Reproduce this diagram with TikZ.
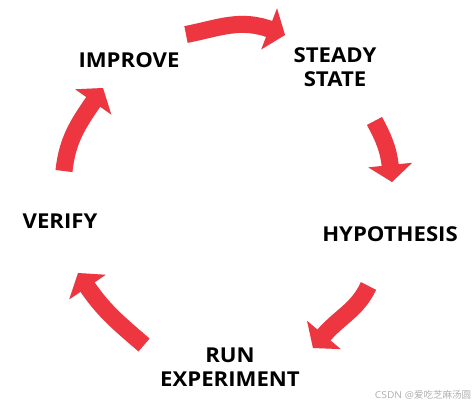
\documentclass[tikz,border=0pt]{standalone}
\usepackage{fontspec}
\setmainfont{Open Sans}[FakeStretch=1.08]
\newfontfamily\cjkfont{Noto Sans CJK SC}
\usetikzlibrary{calc}
\definecolor{arrowred}{RGB}{238,54,64}
\definecolor{markgray}{RGB}{175,175,175}
\tikzset{
  label/.style={font=\fontsize{20.5}{24}\selectfont\bfseries, inner sep=0pt, text=black, align=center},
  shaft/.style={draw=arrowred, line width=17pt},
  shadowshaft/.style={draw=black, draw opacity=0.15, line width=17pt},
}
% #1 tail, #2 out angle, #3 tip, #4 tip direction, #5 in angle
\newcommand{\cyclearrow}[5]{%
  \begin{scope}[shift={(1.2,-1.8)}]
    \draw[shadowshaft] (#1) to[out=#2,in=#5] ($(#3)+({#4+180}:14)$);
    \fill[black,opacity=0.15] ($(#3)+({#4+180}:17)+({#4+90}:22)$) -- (#3) -- ($(#3)+({#4+180}:17)+({#4-90}:22)$) -- cycle;
  \end{scope}
  \draw[shaft] (#1) to[out=#2,in=#5] ($(#3)+({#4+180}:14)$);
  \fill[arrowred] ($(#3)+({#4+180}:17)+({#4+90}:22)$) -- (#3) -- ($(#3)+({#4+180}:17)+({#4-90}:22)$) -- cycle;
}
\begin{document}
\begin{tikzpicture}[x=1pt,y=1pt]
\useasboundingbox (0,0) rectangle (474,407);
\fill[white] (0,0) rectangle (474,407);

% labels
\node[label] (improve) at (129,347) {IMPROVE};
\node[label] (steady) at (335,339.5) {STEADY\\STATE};
\node[label] (hyp) at (390,172.5) {HYPOTHESIS};
\node[label] (run) at (230,40) {RUN\\EXPERIMENT};
\node[label] (verify) at (60,185.5) {VERIFY};

% arrow end points
\coordinate (t1) at (186,372.5); \coordinate (h1) at (285,372);
\coordinate (t2) at (374.5,286); \coordinate (h2) at (392,225);
\coordinate (t3) at (368.5,121); \coordinate (h3) at (313,59);
\coordinate (t4) at (144,62);    \coordinate (h4) at (78,134);
\coordinate (t5) at (64,236);    \coordinate (h5) at (103,319);

\cyclearrow{t1}{11}{h1}{-21}{159}
\cyclearrow{t2}{-62}{h2}{-84}{96}
\cyclearrow{t3}{245}{h3}{230}{50}
\cyclearrow{t4}{139}{h4}{124}{-56}
\cyclearrow{t5}{84}{h5}{55}{235}

% watermark
\node[inner sep=0pt, text=markgray, font=\fontsize{9.5}{11}\selectfont] (mark) at (423,12.5) {CSDN @{\cjkfont 爱吃芝麻汤圆}};
\end{tikzpicture}
\end{document}
